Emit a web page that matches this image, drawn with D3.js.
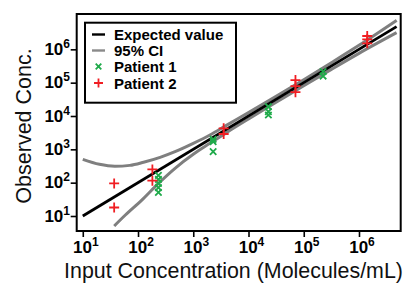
<!DOCTYPE html>
<html><head><meta charset="utf-8">
<script src="https://cdn.jsdelivr.net/npm/d3@7"></script>
<style>body{margin:0;background:#fff}svg{display:block}</style>
</head><body>
<svg id="c" width="414" height="283"></svg>
<script>
const expectedX = [10, 4790000];
const expectedY = [10, 4790000];
const upperX = [10, 20, 38, 71, 126, 251, 468, 1000, 2000, 3980, 10000, 31600, 100000, 316000, 1000000, 4790000];
const upperY = [500, 355, 310, 330, 410, 575, 850, 1510, 2690, 5250, 12600, 38900, 123000, 398000, 1320000, 7400000];
const lowerX = [37, 59, 117, 234, 468, 1000, 2000, 3980, 10000, 31600, 100000, 316000, 1000000, 4790000];
const lowerY = [5, 10.7, 30, 95, 270, 710, 1510, 3160, 8130, 25700, 81300, 251000, 759000, 3160000];
const p1X = [234, 234, 234, 234, 234, 2290, 2290, 2290, 22900, 22900, 22900, 224000, 224000];
const p1Y = [165, 126, 95, 71, 51, 2000, 1700, 850, 19000, 13500, 10700, 214000, 158000];
const p2X = [37, 37, 182, 182, 3550, 3550, 70800, 70800, 70800, 1410000, 1410000, 1410000];
const p2Y = [95, 18, 250, 115, 4270, 2880, 120000, 79000, 52000, 2510000, 2000000, 1510000];
const tickVals = [1, 2, 3, 4, 5, 6];
const legendLabels = ["Expected value", "95% CI", "Patient 1", "Patient 2"];
const xTitle = "Input Concentration (Molecules/mL)";
const yTitle = "Observed Conc.";

const svg = d3.select("#c");
const L = 76.7, R = 400.7, T = 14, B = 231;
const x = d3.scaleLog().domain([Math.pow(10, 0.89), Math.pow(10, 6.755)]).range([L, R]);
const y = d3.scaleLog().domain([Math.pow(10, 0.55), Math.pow(10, 7.06)]).range([B, T]);
const font = "Liberation Sans, Arial, sans-serif";
const green = "#1faa4a", red = "#f01e23";

svg.append("defs").append("clipPath").attr("id", "clip")
  .append("rect").attr("x", L).attr("y", T).attr("width", R - L).attr("height", B - T);
const plot = svg.append("g").attr("clip-path", "url(#clip)");

const line = d3.line().x(d => x(d[0])).y(d => y(d[1])).curve(d3.curveMonotoneX);
plot.append("path").datum(d3.zip(upperX, upperY)).attr("d", line)
  .attr("fill", "none").attr("stroke", "#7f7f7f").attr("stroke-width", 3);
plot.append("path").datum(d3.zip(lowerX, lowerY)).attr("d", line)
  .attr("fill", "none").attr("stroke", "#7f7f7f").attr("stroke-width", 3);
plot.append("path").datum(d3.zip(expectedX, expectedY)).attr("d", d3.line().x(d => x(d[0])).y(d => y(d[1])))
  .attr("fill", "none").attr("stroke", "#000").attr("stroke-width", 2.8);

function xMark(g, px, py, s) {
  g.append("path").attr("d", `M${px - s},${py - s}L${px + s},${py + s}M${px - s},${py + s}L${px + s},${py - s}`)
    .attr("stroke", green).attr("stroke-width", 1.8).attr("fill", "none");
}
function pMark(g, px, py, s) {
  g.append("path").attr("d", `M${px - s},${py}L${px + s},${py}M${px},${py - s}L${px},${py + s}`)
    .attr("stroke", red).attr("stroke-width", 1.8).attr("fill", "none");
}
d3.zip(p1X, p1Y).forEach(d => xMark(plot, x(d[0]), y(d[1]), 3.2));
d3.zip(p2X, p2Y).forEach(d => pMark(plot, x(d[0]), y(d[1]), 5));

// frame
svg.append("rect").attr("x", L).attr("y", T).attr("width", R - L).attr("height", B - T)
  .attr("fill", "none").attr("stroke", "#000").attr("stroke-width", 2);

const tv = tickVals.map(e => Math.pow(10, e));
const xa = svg.append("g").attr("transform", `translate(0,${B})`)
  .call(d3.axisBottom(x).tickValues(tv).tickSize(6).tickFormat(""));
const ya = svg.append("g").attr("transform", `translate(${L},0)`)
  .call(d3.axisLeft(y).tickValues(tv).tickSize(6).tickFormat(""));
[xa, ya].forEach(a => { a.select(".domain").remove(); a.selectAll("line").attr("stroke", "#000").attr("stroke-width", 1.6); });

function expLabel(g, px, py, e, anchor) {
  const t = g.append("text").attr("x", px).attr("y", py).attr("text-anchor", anchor)
    .attr("font-family", font).attr("font-weight", "bold").attr("font-size", 17).attr("fill", "#000");
  t.append("tspan").text("10");
  t.append("tspan").attr("dy", -7).attr("font-size", 12).text(e);
}
tickVals.forEach((e, i) => expLabel(svg, x(tv[i]) + 3, 253, e, "middle"));
tickVals.forEach((e, i) => expLabel(svg, 70, y(tv[i]) + 5.5, e, "end"));

svg.append("text").attr("x", 233.5).attr("y", 278).attr("text-anchor", "middle")
  .attr("font-family", font).attr("font-size", 21.4).attr("fill", "#111").text(xTitle);
svg.append("text").attr("transform", "translate(31,126) rotate(-90)").attr("text-anchor", "middle")
  .attr("font-family", font).attr("font-size", 21.5).attr("fill", "#111").text(yTitle);

// legend
const lg = svg.append("g");
lg.append("rect").attr("x", 85).attr("y", 22.7).attr("width", 151).attr("height", 80)
  .attr("fill", "#fff").attr("stroke", "#000").attr("stroke-width", 2);
const ly = [34.5, 50.5, 66.5, 83];
lg.append("line").attr("x1", 92).attr("x2", 105).attr("y1", ly[0]).attr("y2", ly[0]).attr("stroke", "#000").attr("stroke-width", 2.4);
lg.append("line").attr("x1", 92).attr("x2", 105).attr("y1", ly[1]).attr("y2", ly[1]).attr("stroke", "#8a8a8a").attr("stroke-width", 2.4);
xMark(lg, 98.5, ly[2], 2.8);
pMark(lg, 98.5, ly[3], 4.5);
legendLabels.forEach((s, i) => lg.append("text").attr("x", 114).attr("y", ly[i] + 5.5)
  .attr("font-family", font).attr("font-weight", "bold").attr("font-size", 15).attr("fill", "#000").text(s));
</script>
</body></html>
